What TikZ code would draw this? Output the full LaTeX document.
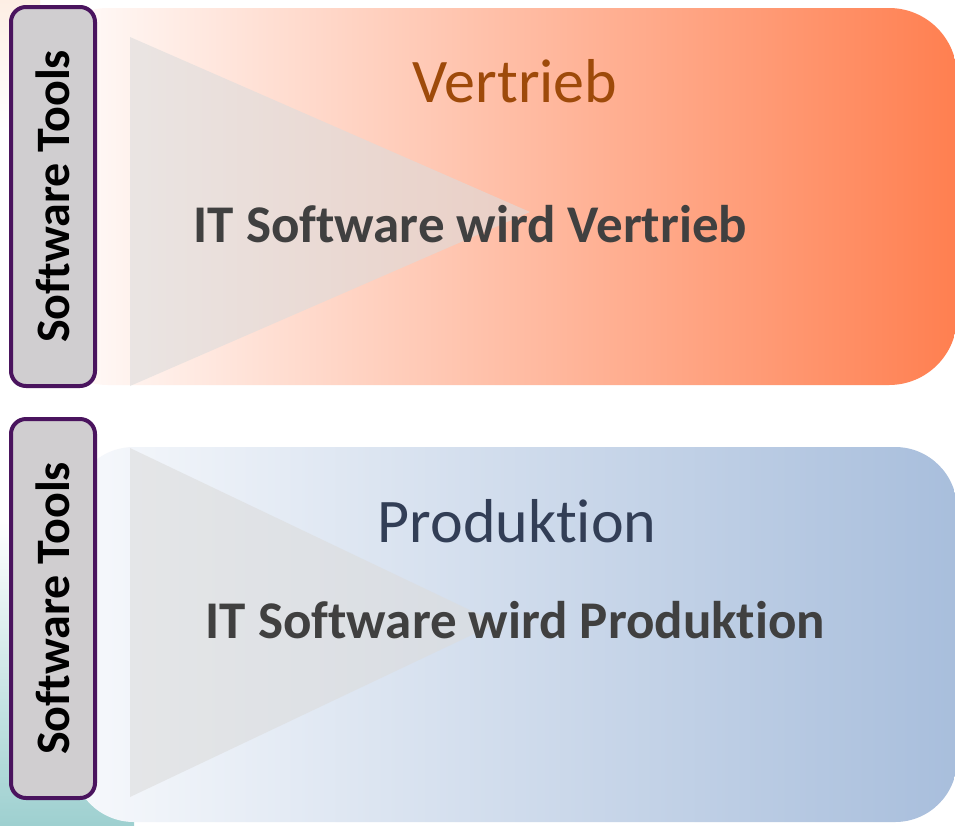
\documentclass[tikz,border=0pt]{standalone}
\usepackage{fontspec}
\setmainfont{Carlito}[Ligatures={NoCommon,NoRare,NoContextual}]
\definecolor{coralR}{RGB}{255,127,80}
\definecolor{coralM}{RGB}{253,202,186}
\definecolor{blueL}{RGB}{247,249,252}
\definecolor{blueM}{RGB}{213,224,238}
\definecolor{blueR}{RGB}{168,190,220}
\definecolor{tealB}{RGB}{158,208,208}
\definecolor{peachB}{RGB}{253,238,228}
\definecolor{tribg}{RGB}{220,220,220}
\definecolor{toolfill}{RGB}{208,206,208}
\definecolor{toolline}{RGB}{74,20,94}
\definecolor{vertc}{RGB}{158,74,10}
\definecolor{prodc}{RGB}{50,62,86}
\definecolor{textc}{RGB}{64,64,64}
\begin{document}
\begin{tikzpicture}[x=1pt,y=-1pt,
  band/.style={rectangle, inner sep=0pt, draw=none},
  tri/.style={fill=tribg, fill opacity=0.6},
  toolbox/.style={rectangle, rounded corners=15pt, draw=toolline, line width=4pt,
     fill=toolfill, minimum width=379pt, minimum height=84pt, inner sep=0pt,
     font=\bfseries\fontsize{48}{48}\selectfont, text=black},
  headline/.style={anchor=base, font=\fontsize{62}{62}\selectfont},
  subline/.style={anchor=base, font=\bfseries\fontsize{53}{53}\selectfont, text=textc}]
\useasboundingbox (0,0) rectangle (955,825);
\fill[white] (0,0) rectangle (955,825);
% background blobs
\shade[top color=peachB, bottom color=white] (0,0) rectangle (40,130);
\shade[top color=white, bottom color=tealB] (0,520) rectangle (134,825);
% bands
\node[band, rounded corners=68pt, left color=white, middle color=coralM, right color=coralR,
  minimum width=917pt, minimum height=377pt] (vband) at (498.5,196.5) {};
\node[band, rounded corners=62pt, left color=blueL, middle color=blueM, right color=blueR,
  minimum width=885pt, minimum height=375pt] (pband) at (514.5,634.5) {};
% triangles
\path[tri] (130,37) -- (130,386) -- (530,212) -- cycle;
\path[tri] (130,448) -- (130,797) -- (497,623) -- cycle;
% tool labels
\node[toolbox, rotate=90] (tools1) at (53,196.5) {Software Tools};
\node[toolbox, rotate=90] (tools2) at (53,608.5) {Software Tools};
% texts
\node[headline, text=vertc] (vtitle) at (515,102) {Vertrieb};
\node[subline] (vsub) at (470.5,242) {IT Software wird Vertrieb};
\node[headline, text=prodc] (ptitle) at (517,542) {Produktion};
\node[subline] (psub) at (515.5,638) {IT Software wird Produktion};
\end{tikzpicture}
\end{document}
